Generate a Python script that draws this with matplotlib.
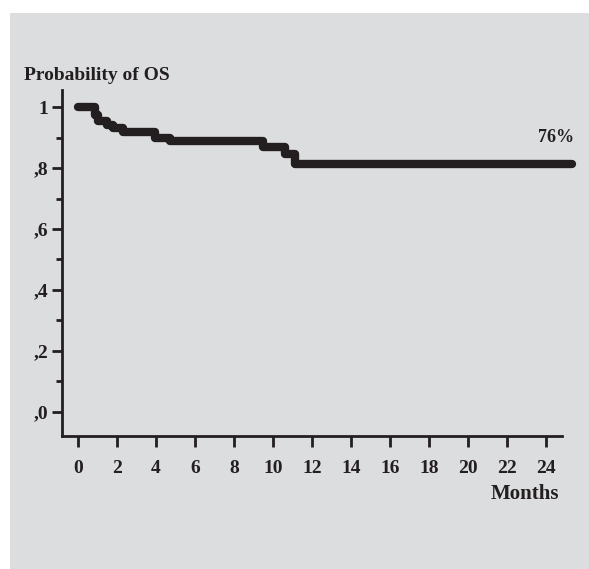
import matplotlib
matplotlib.use("Agg")
import matplotlib.pyplot as plt
from matplotlib.patches import Rectangle
from matplotlib.ticker import FixedLocator

# Kaplan-Meier overall survival
months = [0.0, 0.85, 1.0, 1.5, 1.8, 2.3, 3.95, 4.7, 9.5, 10.6, 11.1, 25.3]
surv = [1.0, 0.975, 0.953, 0.94, 0.93, 0.918, 0.90, 0.889, 0.869, 0.845, 0.813, 0.813]

x_ticks = list(range(0, 25, 2))
y_ticks = [0.0, 0.2, 0.4, 0.6, 0.8, 1.0]
y_tick_labels = [",0", ",2", ",4", ",6", ",8", "1"]
annotation = "76%"

ink = "#231f20"
bg = "#dcdddf"
plt.rcParams['font.family'] = ['Liberation Serif', 'DejaVu Serif']
plt.rcParams['font.weight'] = 'bold'

fig = plt.figure(figsize=(5.89, 5.69), dpi=100)
fig.patch.set_facecolor("white")
fig.patches.append(Rectangle((10/589, 0), 1, (569-13)/569, transform=fig.transFigure,
                             facecolor=bg, edgecolor="none", zorder=-10))

ax = fig.add_axes([62/589, 1-436/569, (562-62)/589, (436-90)/569])
ax.set_zorder(5)
ax.set_facecolor("none")
ax.step(months, surv, where="post", color=ink, lw=6, solid_capstyle="round",
        solid_joinstyle="round", clip_on=False)

ax.set_xlim(-0.82, 24.8)
ax.set_ylim(-0.079, 1.056)
ax.set_xticks(x_ticks)
ax.set_yticks(y_ticks)
ax.set_yticklabels(y_tick_labels)
ax.yaxis.set_minor_locator(FixedLocator([0.1, 0.3, 0.5, 0.7, 0.9]))

for s in ["top", "right"]:
    ax.spines[s].set_visible(False)
for s in ["left", "bottom"]:
    ax.spines[s].set_linewidth(2)
    ax.spines[s].set_color(ink)

ax.tick_params(axis="x", direction="out", length=8, width=2, color=ink, pad=9,
               labelsize=14, labelcolor=ink)
ax.tick_params(axis="y", which="major", direction="out", length=7, width=2, color=ink,
               pad=3, labelsize=14, labelcolor=ink)
ax.tick_params(axis="y", which="minor", direction="out", length=4, width=2, color=ink)

ax.text(24.5, 0.90, annotation, ha="center", va="center", fontsize=13,
        color=ink, fontweight="bold")

fig.text(24/589, 1-75/569, "Probability of OS", ha="left", va="center",
         fontsize=14, color=ink, fontweight="bold")
fig.text(559/589, 1-494/569, "Months", ha="right", va="center",
         fontsize=15, color=ink, fontweight="bold")

fig.savefig("out.png", dpi=100)
